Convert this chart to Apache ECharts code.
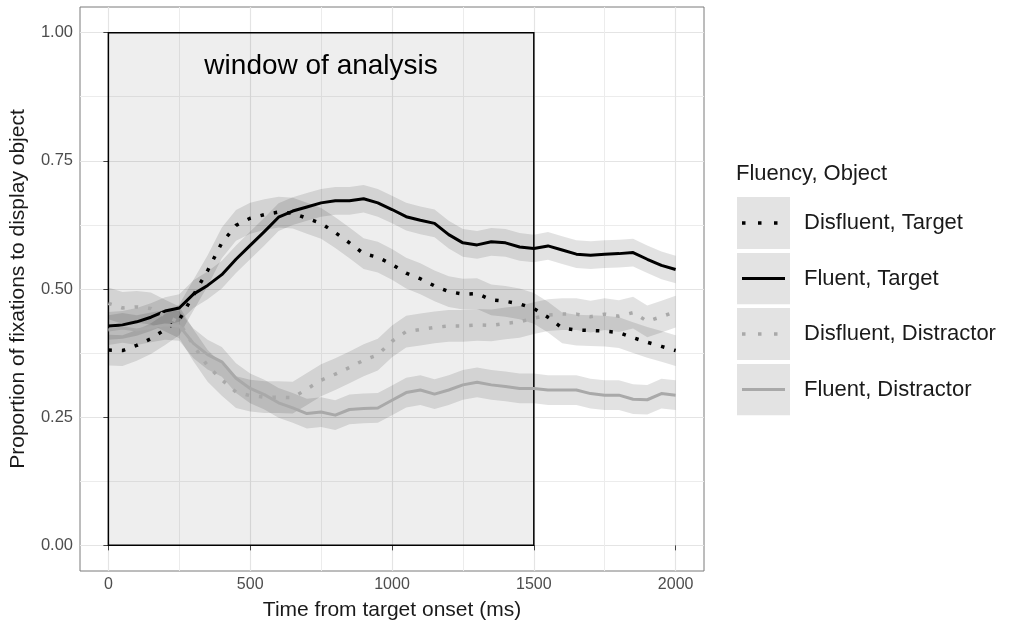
<!DOCTYPE html>
<html>
<head>
<meta charset="utf-8">
<script src="https://cdn.jsdelivr.net/npm/echarts@6/dist/echarts.min.js"></script>
<style>
html,body{margin:0;padding:0;background:#fff;}
#chart{width:1014px;height:627px;}
</style>
</head>
<body>
<div id="chart"></div>
<script>
// ---- data ----
const times = [0,50,100,150,200,250,300,350,400,450,500,550,600,650,700,750,800,850,900,950,1000,
  1050,1100,1150,1200,1250,1300,1350,1400,1450,1500,1550,1600,1650,1700,1750,1800,1850,1900,1950,2000];

const disfluentTarget = [0.381,0.380,0.390,0.403,0.421,0.440,0.488,0.536,0.590,0.624,0.638,0.645,0.650,0.648,0.638,0.628,0.610,0.590,0.569,0.562,0.548,
  0.531,0.520,0.506,0.495,0.490,0.491,0.479,0.476,0.471,0.462,0.445,0.424,0.420,0.419,0.418,0.415,0.405,0.396,0.388,0.380];

const fluentTarget = [0.428,0.430,0.436,0.445,0.457,0.463,0.490,0.507,0.528,0.558,0.585,0.612,0.640,0.652,0.660,0.668,0.672,0.672,0.676,0.668,0.655,
  0.641,0.634,0.628,0.606,0.590,0.586,0.592,0.590,0.582,0.579,0.584,0.576,0.568,0.566,0.568,0.569,0.571,0.558,0.546,0.538];

const disfluentDistractor = [0.472,0.463,0.465,0.462,0.448,0.435,0.390,0.350,0.323,0.299,0.292,0.289,0.289,0.288,0.305,0.322,0.334,0.347,0.361,0.372,0.398,
  0.417,0.421,0.425,0.428,0.428,0.430,0.429,0.433,0.436,0.443,0.449,0.451,0.451,0.446,0.451,0.447,0.454,0.437,0.446,0.456];

const fluentDistractor = [0.420,0.424,0.420,0.425,0.430,0.428,0.394,0.372,0.358,0.326,0.306,0.294,0.278,0.268,0.257,0.260,0.254,0.265,0.267,0.268,0.283,
  0.298,0.303,0.295,0.303,0.313,0.318,0.313,0.310,0.306,0.306,0.303,0.303,0.303,0.296,0.293,0.293,0.285,0.284,0.296,0.293];

// ribbon half-widths (standard error band)
const ribbonHalf = {
  'Disfluent, Target': 0.030,
  'Fluent, Target': 0.027,
  'Disfluent, Distractor': 0.031,
  'Fluent, Distractor': 0.029
};

const seriesNames = ['Disfluent, Target','Fluent, Target','Disfluent, Distractor','Fluent, Distractor'];
const xTicks = [0,500,1000,1500,2000];
const xMinor = [250,750,1250,1750];
const yTicks = [0,0.25,0.5,0.75,1];
const yMinor = [0.125,0.375,0.625,0.875];
const windowStart = 0, windowEnd = 1500;
const windowLabel = 'window of analysis';
const legendTitle = 'Fluency, Object';
const xTitle = 'Time from target onset (ms)';
const yTitle = 'Proportion of fixations to display object';

// ---- styles ----
const FONT = "'Liberation Sans', Arial, Helvetica, sans-serif";
const GREY = '#a9a9a9';
const styles = {
  'Disfluent, Target': {color:'#000', dotted:true, width:3.5},
  'Fluent, Target': {color:'#000', dotted:false, width:3},
  'Disfluent, Distractor': {color:GREY, dotted:true, width:3.5},
  'Fluent, Distractor': {color:GREY, dotted:false, width:3}
};
const valuesByName = {
  'Disfluent, Target': disfluentTarget,
  'Fluent, Target': fluentTarget,
  'Disfluent, Distractor': disfluentDistractor,
  'Fluent, Distractor': fluentDistractor
};

function keyIcon(st){
  const svg = "<svg xmlns='http://www.w3.org/2000/svg' width='62' height='52'>" +
    "<rect x='0' y='0' width='53' height='52' fill='#e3e3e3'/>" +
    "<line x1='5' y1='26' x2='48' y2='26' stroke='" + st.color + "' stroke-width='" + st.width + "'" +
    (st.dotted ? " stroke-dasharray='3.5,12.5'" : "") + "/></svg>";
  return 'image://data:image/svg+xml;charset=utf-8,' + encodeURIComponent(svg);
}

const series = [];
// window of analysis rectangle
series.push({
  type:'line', name:'window', data:[], z:1, silent:true,
  markArea:{
    silent:true,
    itemStyle:{color:'rgba(0,0,0,0.065)', borderColor:'#000', borderWidth:1.5},
    label:{show:true, position:'insideTop', distance:20, formatter:windowLabel,
      fontSize:28, color:'#000', fontFamily:FONT},
    data:[[{xAxis:windowStart, yAxis:0}, {xAxis:windowEnd, yAxis:1}]]
  }
});
// ribbons (one polygon per series, through the axis scales)
seriesNames.forEach((n) => {
  const vals = valuesByName[n], h = ribbonHalf[n];
  series.push({
    type:'custom', name:n+' band', z:2, silent:true,
    data:[[times[0], vals[0]]],
    encode:{x:0, y:1},
    renderItem:(params, api) => {
      const up = times.map((t,i)=>api.coord([t, vals[i]+h]));
      const lo = times.map((t,i)=>api.coord([t, vals[i]-h])).reverse();
      return {type:'polygon', shape:{points: up.concat(lo)},
        style:{fill:'rgba(0,0,0,0.115)', stroke:null}};
    }
  });
});
// lines
seriesNames.forEach((n) => {
  const st = styles[n];
  series.push({
    type:'line', name:n, z:3, symbol:'none', silent:true,
    itemStyle:{color:st.color},
    lineStyle:{color:st.color, width:st.width, type: st.dotted ? [3.5, 10] : 'solid', cap:'butt', join:'round'},
    data: times.map((t,i)=>[t, valuesByName[n][i]])
  });
});

const chart = echarts.init(document.getElementById('chart'), null, {renderer:'canvas'});
chart.setOption({
  animation:false,
  backgroundColor:'#fff',
  textStyle:{fontFamily:FONT},
  title:{text:legendTitle, left:736, top:163, padding:0,
    textStyle:{fontSize:22, fontWeight:'normal', color:'#1a1a1a', fontFamily:FONT}},
  legend:{
    orient:'vertical', left:737, top:197, padding:0, itemGap:3.5,
    itemWidth:62, itemHeight:52, selectedMode:false,
    data: seriesNames.map(n => ({name:n, icon:keyIcon(styles[n])})),
    textStyle:{fontSize:22, color:'#1a1a1a', fontFamily:FONT}
  },
  grid:{left:80, top:7, width:624, height:564, show:true, borderColor:'#7a7a7a', borderWidth:1, backgroundColor:'transparent', containLabel:false},
  xAxis:[{
    type:'value', min:-100, max:2100,
    axisLine:{show:false},
    axisTick:{show:true, length:5, lineStyle:{color:'#444'}, customValues:xTicks},
    axisLabel:{color:'#4d4d4d', fontSize:16, margin:6, customValues:xTicks, fontFamily:FONT,
      formatter:(v)=>String(v)},
    splitLine:{show:true, lineStyle:{color:'#e4e4e4', width:1.2}},
    name:xTitle, nameLocation:'middle', nameGap:29,
    nameTextStyle:{fontSize:21, color:'#1a1a1a', fontFamily:FONT}
  },{
    type:'value', min:-100, max:2100, position:'top',
    axisLine:{show:false}, axisLabel:{show:false, customValues:xMinor},
    axisTick:{show:false, customValues:xMinor},
    splitLine:{show:true, lineStyle:{color:'#ececec', width:1}}
  }],
  yAxis:[{
    type:'value', min:-0.05, max:1.05,
    axisLine:{show:false},
    axisTick:{show:true, length:5, lineStyle:{color:'#444'}, customValues:yTicks},
    axisLabel:{color:'#4d4d4d', fontSize:16.5, margin:7, customValues:yTicks, fontFamily:FONT,
      formatter:(v)=>v.toFixed(2)},
    splitLine:{show:true, lineStyle:{color:'#e4e4e4', width:1.2}},
    name:yTitle, nameLocation:'middle', nameGap:51,
    nameTextStyle:{fontSize:21, color:'#1a1a1a', fontFamily:FONT}
  },{
    type:'value', min:-0.05, max:1.05, position:'right',
    axisLine:{show:false}, axisLabel:{show:false, customValues:yMinor},
    axisTick:{show:false, customValues:yMinor},
    splitLine:{show:true, lineStyle:{color:'#ececec', width:1}}
  }],
  series: series
});
</script>
</body>
</html>
